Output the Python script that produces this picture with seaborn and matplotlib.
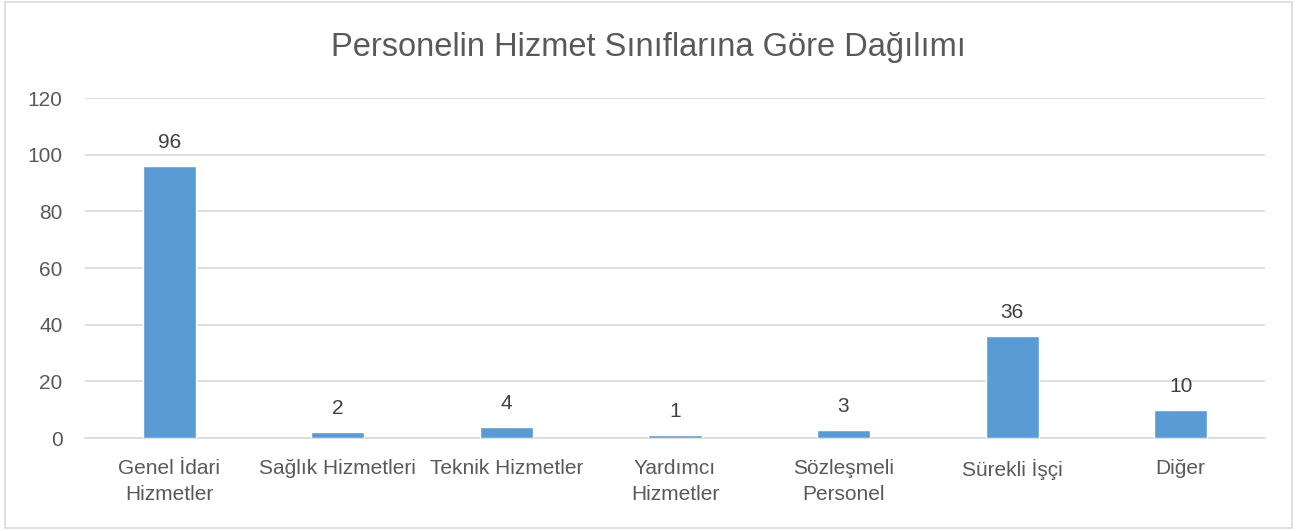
import matplotlib
matplotlib.use('Agg')
import matplotlib.pyplot as plt
import seaborn as sns
import pandas as pd

categories = ['Genel İdari\nHizmetler', 'Sağlık Hizmetleri', 'Teknik Hizmetler',
              'Yardımcı\nHizmetler', 'Sözleşmeli\nPersonel', 'Sürekli İşçi', 'Diğer']
values = [96, 2, 4, 1, 3, 36, 10]
y_ticks = [0, 20, 40, 60, 80, 100, 120]

text_color = '#595959'
bar_color = '#5B9BD5'

sns.set_style('white')
plt.rcParams['font.family'] = ['Liberation Sans', 'DejaVu Sans']

df = pd.DataFrame({'category': categories, 'value': values})

fig = plt.figure(figsize=(12.97, 5.31), dpi=100)
ax = fig.add_axes([0.0655, 0.1751, 0.9098, 0.6403])

sns.barplot(data=df, x='category', y='value', color=bar_color, width=0.315,
            saturation=1, ax=ax, zorder=3)

ax.set_ylim(0, 120)
ax.set_yticks(y_ticks)
ax.set_xlim(-0.5, len(categories) - 0.5)
ax.yaxis.grid(True, color='#D9D9D9', linewidth=1.2, zorder=0)
ax.set_axisbelow(True)
for side in ['top', 'right', 'left']:
    ax.spines[side].set_visible(False)
ax.spines['bottom'].set_color('#D9D9D9')
ax.spines['bottom'].set_linewidth(1.2)
ax.tick_params(axis='both', length=0, labelsize=15, colors=text_color)
ax.tick_params(axis='x', pad=15)
ax.tick_params(axis='y', pad=16)
for lbl in ax.get_xticklabels():
    lbl.set_linespacing(1.5)
ax.set_xlabel('')
ax.set_ylabel('')

for i, v in enumerate(values):
    ax.annotate(str(v), (i, v), xytext=(0, 10), textcoords='offset points',
                ha='center', va='bottom', fontsize=15, color='#404040')

fig.text(0.5, 0.91, 'Personelin Hizmet Sınıflarına Göre Dağılımı', ha='center',
         va='center', fontsize=23.5, color=text_color)

border = plt.Rectangle((0.004, 0.006), 0.992, 0.99, transform=fig.transFigure,
                       fill=False, edgecolor='#D9D9D9', linewidth=1.2)
fig.patches.append(border)

fig.savefig('out.png', dpi=100)
